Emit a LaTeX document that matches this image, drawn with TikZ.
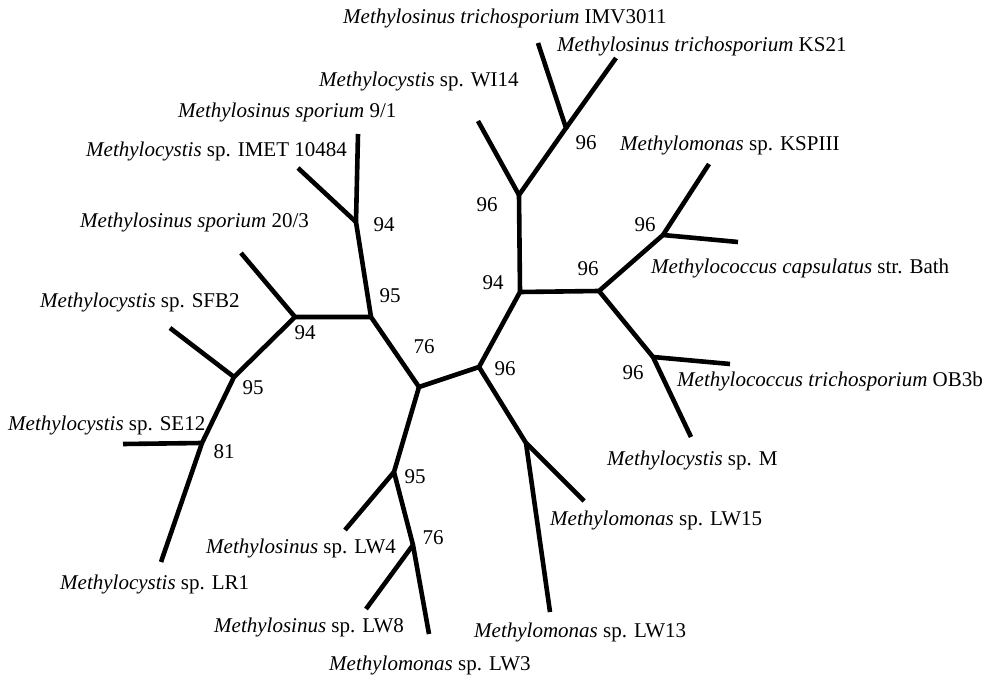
\documentclass[tikz,border=0pt]{standalone}
\usepackage{fontspec}
\setmainfont{Liberation Serif}
\begin{document}
\begin{tikzpicture}[x=1pt,y=-1pt,
  branch/.style={line width=4.6pt,line cap=butt,line join=miter},
  taxon/.style={anchor=base west,inner sep=0pt,font=\fontsize{21}{25}\selectfont},
  boot/.style={anchor=base,inner sep=0pt,font=\fontsize{21}{25}\selectfont}]
\useasboundingbox (0,0) rectangle (991,676);
% internal nodes
\coordinate (A) at (356,222);
\coordinate (B) at (371,317);
\coordinate (C) at (295,317);
\coordinate (D) at (234,377);
\coordinate (E) at (202,443);
\coordinate (F) at (419,387);
\coordinate (G) at (479,367);
\coordinate (H) at (394,472);
\coordinate (I) at (413,545);
\coordinate (J) at (526,443);
\coordinate (K) at (520,292);
\coordinate (L) at (519,195);
\coordinate (M) at (566,128);
\coordinate (N) at (599,291);
\coordinate (O) at (663,235);
\coordinate (P) at (653,357);
% leaves
\coordinate (t91) at (358,134);
\coordinate (timet) at (298,168);
\coordinate (t203) at (241,253);
\coordinate (tsfb) at (170,328);
\coordinate (tse) at (123,444);
\coordinate (tlr) at (161,562);
\coordinate (tlw4) at (345,530);
\coordinate (tlw8) at (366,609);
\coordinate (tlw3) at (429,634);
\coordinate (tlw15) at (584,501);
\coordinate (tlw13) at (550,612);
\coordinate (tw) at (478,121);
\coordinate (timv) at (538,43);
\coordinate (tks) at (616,58);
\coordinate (tksp) at (709,164);
\coordinate (tbath) at (738,242);
\coordinate (tob) at (730,364);
\coordinate (tm) at (691,437);
% branches
\draw[branch] (t91) -- (A) -- (B) -- (F) -- (G) -- (K) -- (L) -- (M) -- (timv);
\draw[branch] (timet) -- (A);
\draw[branch] (B) -- (C) -- (D) -- (E) -- (tlr);
\draw[branch] (t203) -- (C);
\draw[branch] (tsfb) -- (D);
\draw[branch] (tse) -- (E);
\draw[branch] (F) -- (H) -- (I) -- (tlw3);
\draw[branch] (H) -- (tlw4);
\draw[branch] (I) -- (tlw8);
\draw[branch] (G) -- (J) -- (tlw13);
\draw[branch] (J) -- (tlw15);
\draw[branch] (L) -- (tw);
\draw[branch] (M) -- (tks);
\draw[branch] (K) -- (N) -- (O) -- (tksp);
\draw[branch] (O) -- (tbath);
\draw[branch] (N) -- (P) -- (tm);
\draw[branch] (P) -- (tob);
% taxon labels
\node[taxon] (nimv) at (343,24) {\textit{Methylosinus trichosporium} IMV3011};
\node[taxon] (nks) at (557,52) {\textit{Methylosinus trichosporium} KS21};
\node[taxon] (nw) at (319,87) {\textit{Methylocystis} sp. WI14};
\node[taxon] (n91) at (178,118) {\textit{Methylosinus sporium} 9/1};
\node[taxon] (nimet) at (86,157) {\textit{Methylocystis} sp. IMET 10484};
\node[taxon] (n203) at (80,228) {\textit{Methylosinus sporium} 20/3};
\node[taxon] (nsfb) at (40,308) {\textit{Methylocystis} sp. SFB2};
\node[taxon] (nse) at (8,430) {\textit{Methylocystis} sp. SE12};
\node[taxon] (nlr) at (60,589) {\textit{Methylocystis} sp. LR1};
\node[taxon] (nlw4) at (206,553) {\textit{Methylosinus} sp. LW4};
\node[taxon] (nlw8) at (214,632) {\textit{Methylosinus} sp. LW8};
\node[taxon] (nlw3) at (329,670) {\textit{Methylomonas} sp. LW3};
\node[taxon] (nlw13) at (474,637) {\textit{Methylomonas} sp. LW13};
\node[taxon] (nlw15) at (550,525) {\textit{Methylomonas} sp. LW15};
\node[taxon] (nm) at (607,465) {\textit{Methylocystis} sp. M};
\node[taxon] (nob) at (677,387) {\textit{Methylococcus trichosporium} OB3b};
\node[taxon] (nbath) at (651,274) {\textit{Methylococcus capsulatus} str. Bath};
\node[taxon] (nksp) at (620,151) {\textit{Methylomonas} sp. KSPIII};
% bootstrap values
\node[boot] (bA) at (384,232) {94};
\node[boot] (bB) at (390,303) {95};
\node[boot] (bC) at (305,340) {94};
\node[boot] (bD) at (253,395) {95};
\node[boot] (bE) at (224,458) {81};
\node[boot] (bF) at (424,354) {76};
\node[boot] (bH) at (415,483) {95};
\node[boot] (bI) at (433,544) {76};
\node[boot] (bL) at (487,212) {96};
\node[boot] (bK) at (493,290) {94};
\node[boot] (bM) at (586,150) {96};
\node[boot] (bN) at (588,276) {96};
\node[boot] (bO) at (645,232) {96};
\node[boot] (bG) at (505,375) {96};
\node[boot] (bP) at (633,379) {96};
\end{tikzpicture}
\end{document}
